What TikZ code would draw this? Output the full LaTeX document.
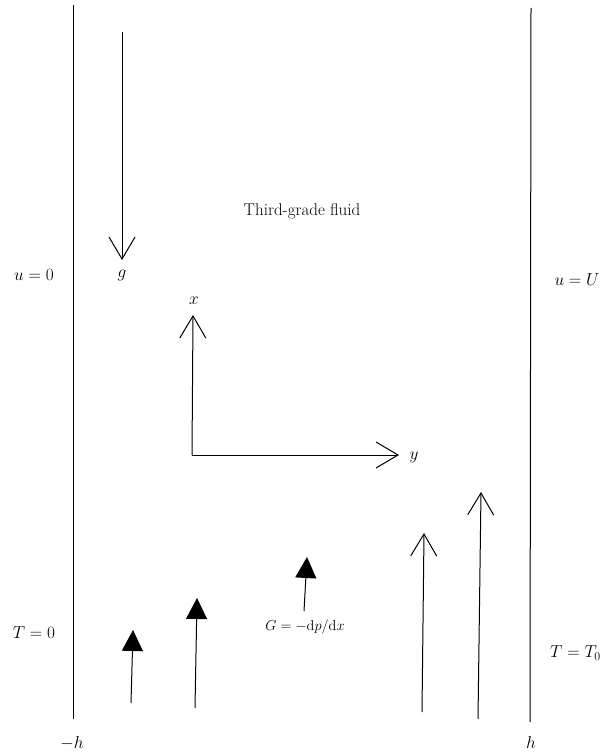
\documentclass[tikz,border=0pt]{standalone}
\usetikzlibrary{arrows.meta}
\begin{document}
\begin{tikzpicture}[x=1pt,y=-1pt,
  wall/.style={line width=1pt},
  openarrow/.style={line width=1pt,-{Straight Barb[length=22pt,width=26pt,line width=1pt]}},
  solidarrow/.style={line width=1pt,-{Triangle[length=21pt,width=21pt]}},
  lbl/.style={inner sep=0pt,font=\fontsize{17}{19}\selectfont},
  small/.style={inner sep=0pt,font=\fontsize{13.5}{15}\selectfont}]
\useasboundingbox (0,0) rectangle (603,752);
% walls
\coordinate (lwt) at (73,5);
\coordinate (lwb) at (73,719);
\coordinate (rwt) at (531,8);
\coordinate (rwb) at (530,722);
\draw[wall] (lwt) -- (lwb);
\draw[wall] (rwt) -- (rwb);
% labels
\node[lbl] (u0) at (34,275) {$u = 0$};
\node[lbl] (uU) at (577,280) {$u = U$};
\node[lbl] (T0) at (34,633) {$T = 0$};
\node[lbl,anchor=west] (TT0) at (550,653) {$T = T_0$};
\node[lbl] (mh) at (72,743) {$-h$};
\node[lbl] (ph) at (531,742) {$h$};
\node[lbl] (fluid) at (302,211) {Third-grade fluid};
% gravity
\coordinate (gs) at (122,32);
\coordinate (ge) at (122,260);
\draw[openarrow] (gs) -- (ge);
\node[lbl] (g) at (122,275) {$g$};
% axes
\coordinate (O) at (192,455);
\coordinate (xe) at (193,315);
\coordinate (ye) at (399,455);
\draw[openarrow] (O) -- (xe);
\draw[openarrow] (O) -- (ye);
\node[lbl] (xl) at (194,301) {$x$};
\node[lbl] (yl) at (414,457) {$y$};
% filled arrows
\coordinate (a1s) at (131,703);
\coordinate (a1e) at (133,630);
\coordinate (a2s) at (195,708);
\coordinate (a2e) at (197,598);
\coordinate (a3s) at (304,611);
\coordinate (a3e) at (307,557);
\draw[solidarrow] (a1s) -- (a1e);
\draw[solidarrow] (a2s) -- (a2e);
\draw[solidarrow] (a3s) -- (a3e);
\node[small] (G) at (305,627) {$G = -\mathrm{d}p/\mathrm{d}x$};
% open arrows
\coordinate (a4s) at (422,712);
\coordinate (a4e) at (424,533);
\coordinate (a5s) at (478,719);
\coordinate (a5e) at (481,492);
\draw[openarrow] (a4s) -- (a4e);
\draw[openarrow] (a5s) -- (a5e);
\end{tikzpicture}
\end{document}
